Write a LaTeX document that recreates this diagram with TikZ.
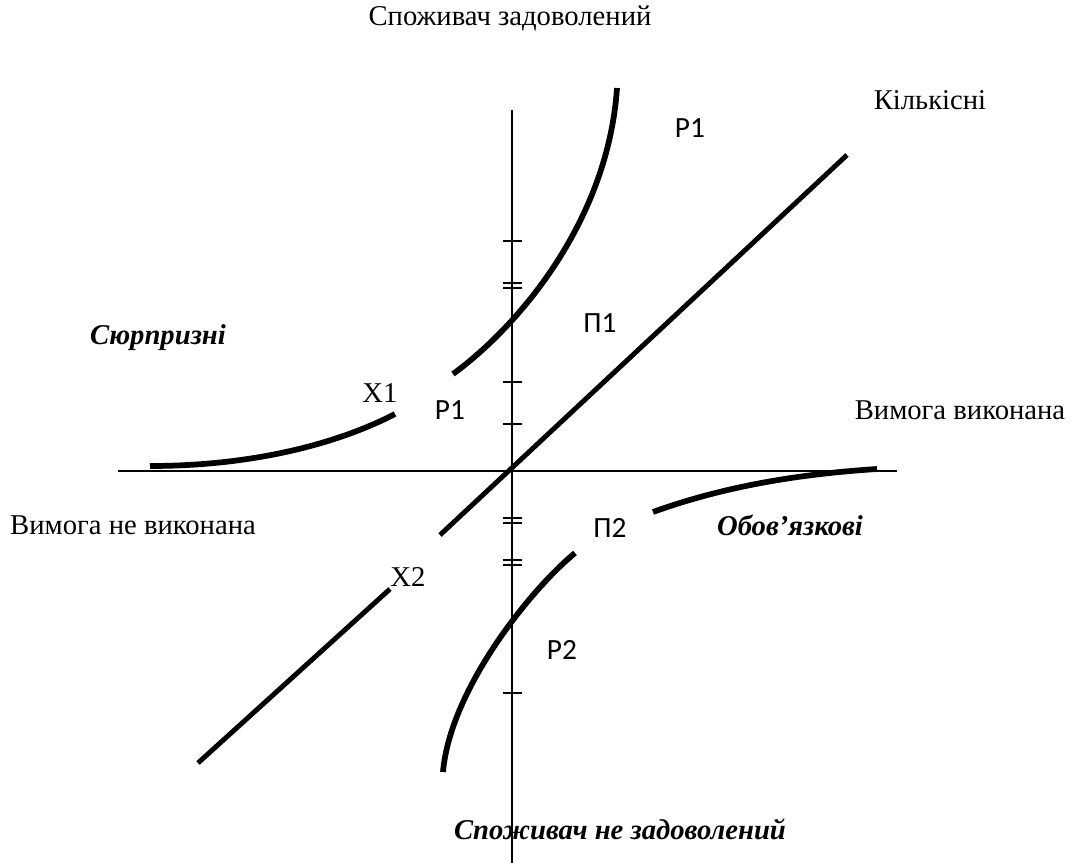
\documentclass[tikz,border=0pt]{standalone}
\usepackage{fontspec}
\setmainfont{Liberation Serif}
\newfontfamily\sansfam{Carlito}
\usepackage{tikz}
\usetikzlibrary{calc, positioning}

\begin{document}
\begin{tikzpicture}[x=0.75pt, y=-0.75pt,
    vis/.style={line width=1pt},
    kryva/.style={line width=4.3pt},
    pryama/.style={line width=3.7pt},
    ryska/.style={line width=1pt},
    napys/.style={font=\fontsize{21.5}{24}\selectfont, inner sep=0pt},
    napysbi/.style={font=\fontsize{21.5}{24}\selectfont\bfseries\itshape, inner sep=0pt},
    mitka/.style={font=\sansfam\fontsize{22}{25}\selectfont, inner sep=0pt}]
    \useasboundingbox (0,0) rectangle (1072,863);

    % 1. Осі
    \coordinate (O) at (512,471);
    \coordinate (xl) at (118,471);
    \coordinate (xr) at (897,471);
    \coordinate (yt) at (512,110);
    \coordinate (yb) at (512,863);
    \draw[vis] (xl) -- (xr);
    \draw[vis] (yt) -- (yb);

    % 2. Риски на вертикальній осі
    \foreach \y in {241, 283, 288, 382, 424, 518, 523, 560, 565, 693}
        \draw[ryska] (503,\y) -- (522,\y);

    % 3. Діагональ (кількісні)
    \draw[pryama] (198,763) -- (390,589);
    \draw[pryama] (440,535) -- (847,155);

    % 4. Криві
    % Р1 вгорі
    \draw[kryva] (453,374) .. controls (520,325) and (608,220) .. (617,88);
    % Х1 зліва
    \draw[kryva] (150,466) .. controls (250,466) and (335,445) .. (395,414);
    % обов'язкові справа
    \draw[kryva] (653,512) .. controls (725,486) and (800,474) .. (877,469);
    % Р2 внизу
    \draw[kryva] (443,772) .. controls (450,690) and (530,590) .. (575,553);

    % 5. Підписи
    \node[napys] (sat) at (510,18) {Споживач задоволений};
    \node[napys] (kil) at (930,100) {Кількісні};
    \node[mitka] (r1a) at (690,128) {Р1};
    \node[mitka] (p1) at (600,323) {П1};
    \node[napysbi] (syur) at (158,338) {Сюрпризні};
    \node[napys] (x1) at (380,393) {Х1};
    \node[mitka] (r1b) at (450,410) {Р1};
    \node[napys] (vyk) at (960,410) {Вимога виконана};
    \node[napys] (nevyk) at (133,525) {Вимога не виконана};
    \node[mitka] (p2) at (610,528) {П2};
    \node[napysbi] (oboy) at (790,525) {Обов’язкові};
    \node[napys] (x2) at (408,577) {Х2};
    \node[mitka] (r2) at (562,650) {Р2};
    \node[napysbi] (nesat) at (620,829) {Споживач не задоволений};

\end{tikzpicture}
\end{document}
